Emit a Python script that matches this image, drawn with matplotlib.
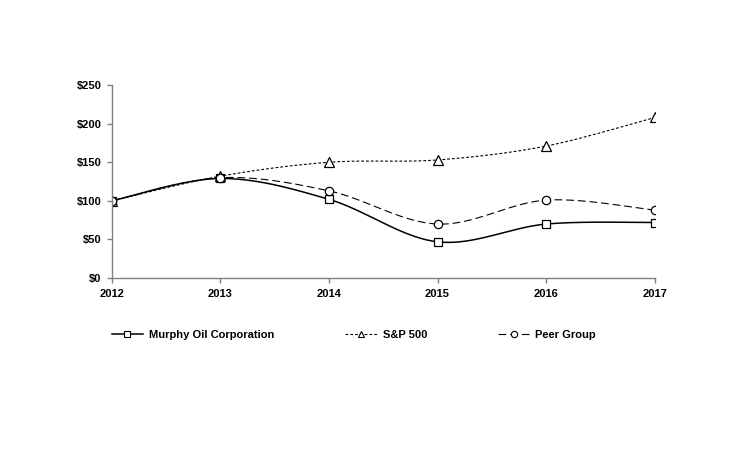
import numpy as np
import matplotlib
matplotlib.use("Agg")
import matplotlib.pyplot as plt
from matplotlib.lines import Line2D

years = [2012, 2013, 2014, 2015, 2016, 2017]
murphy = [100, 129, 102, 47, 70, 72]
sp500 = [100, 132, 150, 153, 171, 208]
peer = [100, 130, 113, 70, 101, 88]
yticks = [0, 50, 100, 150, 200, 250]
ytick_labels = ["$0", "$50", "$100", "$150", "$200", "$250"]

plt.rcParams['font.family'] = ['Liberation Sans', 'DejaVu Sans']

def smooth(x, y, n=40):
    x = np.asarray(x, float); y = np.asarray(y, float)
    px = np.concatenate([[x[0]], x, [x[-1]]])
    py = np.concatenate([[y[0]], y, [y[-1]]])
    xs, ys = [], []
    for i in range(1, len(px) - 2):
        t = np.linspace(0, 1, n)
        p0, p1, p2, p3 = [np.array([px[j], py[j]]) for j in range(i - 1, i + 3)]
        c1 = p1 + (p2 - p0) / 6
        c2 = p2 - (p3 - p1) / 6
        b = ((1 - t) ** 3)[:, None] * p1 + (3 * (1 - t) ** 2 * t)[:, None] * c1 + \
            (3 * (1 - t) * t ** 2)[:, None] * c2 + (t ** 3)[:, None] * p2
        xs.append(b[:, 0]); ys.append(b[:, 1])
    return np.concatenate(xs), np.concatenate(ys)

fig = plt.figure(figsize=(7.5, 4.5), dpi=100)
ax = fig.add_axes([0.149, 0.382, 0.724, 0.429])

series = [
    (murphy, '-', 's', 1.1, 5.5, "Murphy Oil Corporation"),
    (sp500, (0, (2.5, 1.8)), '^', 0.8, 6.5, "S&P 500"),
    (peer, (0, (7, 3.5)), 'o', 0.8, 6, "Peer Group"),
]
handles = []
for vals, ls, mk, lw, ms, lab in series:
    sx, sy = smooth(years, vals)
    ax.plot(sx, sy, color='black', linestyle=ls, linewidth=lw)
    ax.plot(years, vals, linestyle='none', marker=mk, markersize=ms,
            markerfacecolor='white', markeredgecolor='black', markeredgewidth=0.9)
    handles.append(Line2D([], [], color='black', linestyle=ls, linewidth=lw, marker=mk,
                          markersize=4.5, markerfacecolor='white', markeredgecolor='black',
                          markeredgewidth=0.8, label=lab))

ax.set_xlim(2012, 2017)
ax.set_ylim(0, 250)
ax.set_xticks(years)
ax.set_xticklabels([str(y) for y in years], fontsize=8, fontweight='bold')
ax.set_yticks(yticks)
ax.set_yticklabels(ytick_labels, fontsize=8, fontweight='bold')
for s in ['top', 'right']:
    ax.spines[s].set_visible(False)
for s in ['left', 'bottom']:
    ax.spines[s].set_color('#808080')
    ax.spines[s].set_linewidth(1)
ax.tick_params(axis='both', color='#808080', length=3.5, width=1)
ax.tick_params(axis='x', pad=4)
ax.tick_params(axis='y', pad=4)

fig.legend(handles=handles, loc='center left', ncol=3, frameon=False,
           bbox_to_anchor=(0.149, 0.255), borderaxespad=0, borderpad=0,
           prop={'size': 8, 'weight': 'bold'}, handlelength=2.8,
           handletextpad=0.55, columnspacing=6.4)

fig.savefig("out.png", dpi=100, facecolor='white')
